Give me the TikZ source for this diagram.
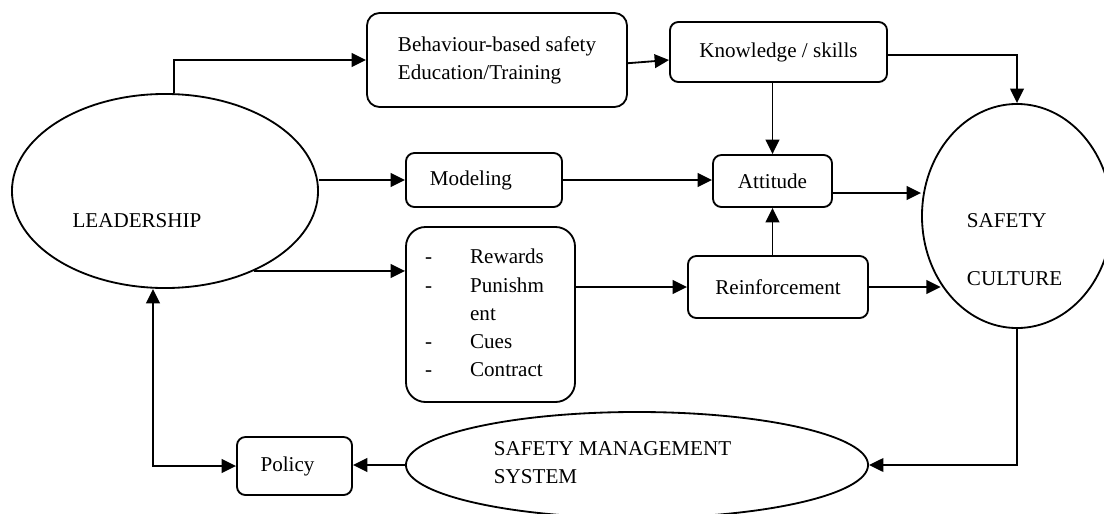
\documentclass[tikz,border=0pt]{standalone}
\usepackage{fontspec}
\setmainfont{Liberation Serif}
\usetikzlibrary{arrows.meta, shapes.geometric, calc}
\tikzset{
  stepbox/.style={draw, line width=1.3pt, rounded corners=6pt, inner sep=0pt},
  oval/.style={draw, ellipse, line width=1.3pt, inner sep=0pt},
  link/.style={line width=1.3pt, -{Triangle[length=0.36cm, width=0.34cm]}},
  twolink/.style={line width=1.3pt, {Triangle[length=0.36cm, width=0.34cm]}-{Triangle[length=0.36cm, width=0.34cm]}},
}

\begin{document}
\begin{tikzpicture}[x=0.025cm, y=-0.025cm, font=\fontsize{15}{20}\selectfont]
  \useasboundingbox (0,0) rectangle (1104,513);

  \node[oval, minimum width=7.65cm, minimum height=4.85cm] (lead) at (165,191) {};
  \node (leadtext) at (137,221) {LEADERSHIP};

  \node[oval, minimum width=4.75cm, minimum height=5.6cm] (culture) at (1017,216) {};
  \node[anchor=west, align=left] (culturetext) at (962,249.5) {SAFETY\\[21pt]CULTURE};

  \node[oval, minimum width=11.55cm, minimum height=2.65cm] (sms) at (637,465) {};
  \node[anchor=west, align=left] (smstext) at (489,462.5) {SAFETY MANAGEMENT\\SYSTEM};

  \node[stepbox, rounded corners=9pt, minimum width=6.5cm, minimum height=2.35cm, align=left] (behav) at (497,60)
    {Behaviour-based safety\\Education/Training};
  \node[stepbox, minimum width=5.425cm, minimum height=1.5cm] (know) at (778.5,52) {Knowledge / skills};
  \node[stepbox, minimum width=2.975cm, minimum height=1.3cm] (att) at (772.5,181) {Attitude};
  \node[stepbox, minimum width=3.9cm, minimum height=1.35cm] (model) at (484,180) {Modeling\kern0.65cm};
  \node[stepbox, rounded corners=14pt, minimum width=4.225cm, minimum height=4.375cm] (rewards) at (490.5,314.5)
    {\begin{tabular}{@{}l@{\hspace{0.95cm}}l@{}}
      -&Rewards\\ -&Punishm\\ &ent\\ -&Cues\\ -&Contract
    \end{tabular}\kern0.3cm};
  \node[stepbox, minimum width=4.5cm, minimum height=1.55cm] (reinf) at (778,287) {Reinforcement};
  \node[stepbox, minimum width=2.875cm, minimum height=1.45cm] (policy) at (294.5,466) {Policy\kern0.35cm};

  \coordinate (attout) at ([yshift=-0.3cm]att.east);

  \draw[link] ([xshift=0.22cm]lead.north) |- (behav.west);
  \draw[link] ([yshift=-0.08cm]behav.east) -- ([yshift=-0.2cm]know.west);
  \draw[link] ([yshift=-0.08cm]know.east) -| (culture.north);
  \draw[link] (att.north |- know.south) -- (att.north);
  \draw[link] (model.west -| lead.east) -- (model.west);
  \draw[link] (model.east) -- (model.east -| att.west);
  \draw[link] (lead.-42) -- (lead.-42 -| rewards.west);
  \draw[link] (rewards.east |- reinf.west) -- (reinf.west);
  \draw[link] (att.south |- reinf.north) -- (att.south);
  \draw[link] (attout) -- (attout -| culture.west);
  \draw[link] (reinf.east) -- (reinf.east -| culture.222);
  \draw[link] (culture.south) |- (sms.east);
  \draw[link] (sms.west) -- (sms.west -| policy.east);
  \draw[twolink] ([xshift=-0.3cm]lead.south) |- (policy.west);
\end{tikzpicture}
\end{document}
